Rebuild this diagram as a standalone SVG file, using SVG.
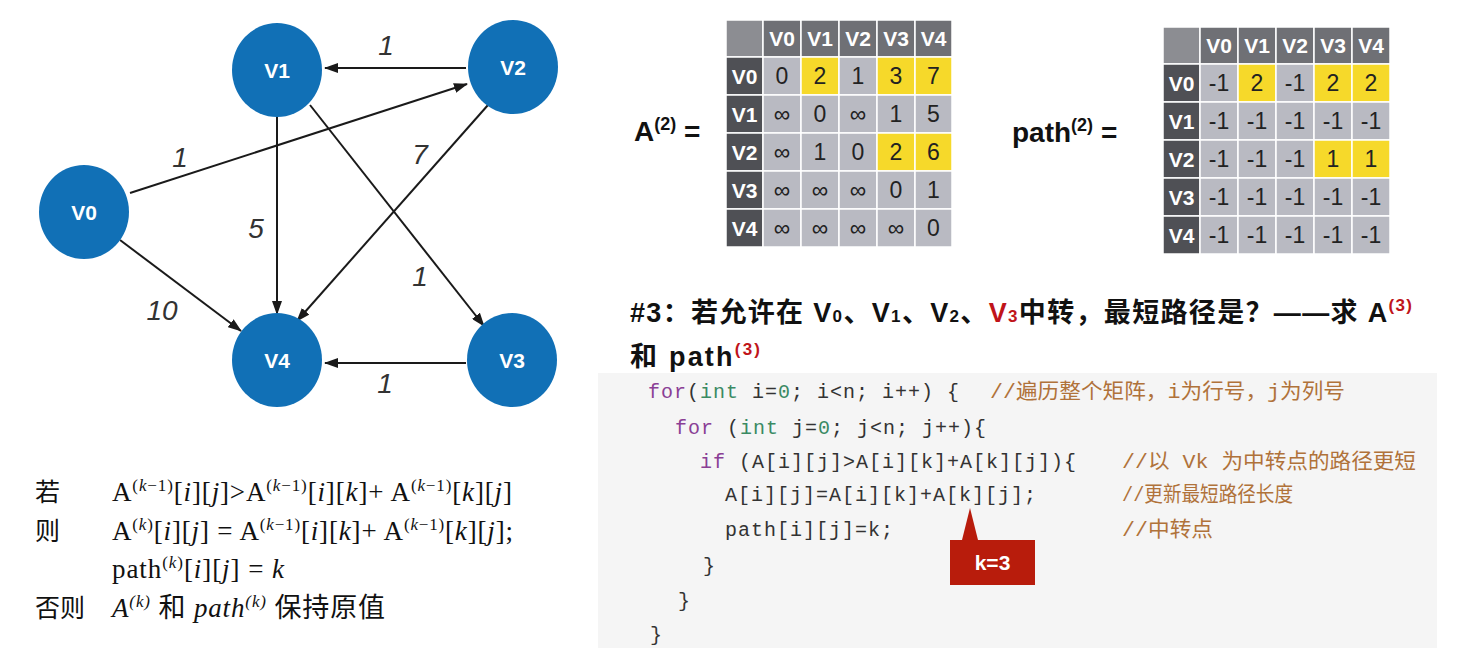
<svg xmlns="http://www.w3.org/2000/svg" width="1477" height="661" viewBox="0 0 1477 661">
<style>
.nd{fill:#1170b6}
.nl{font-family:"Liberation Sans",Arial,sans-serif;font-weight:bold;font-size:21px;fill:#fff;text-anchor:middle}
.el{font-family:"Liberation Sans",Arial,sans-serif;font-style:italic;font-size:28px;fill:#333;text-anchor:middle}
.ed{stroke:#1a1a1a;stroke-width:2;fill:none;marker-end:url(#ah)}
.c{stroke:#fff;stroke-width:1.5}
.ch{fill:#6f7075}.cc{fill:#8c8d92}.cr{fill:#4f5055}.cd{fill:#b9bac2}.cy{fill:#f6d92a}
.th{font-family:"Liberation Sans",Arial,sans-serif;font-weight:bold;font-size:21px;fill:#fff;text-anchor:middle}
.td{font-family:"Liberation Sans",Arial,sans-serif;font-size:23px;fill:#222;text-anchor:middle}
.lb{font-family:"Liberation Sans",Arial,sans-serif;font-weight:bold;font-size:28px;fill:#111}
.ttl{font-family:"Liberation Sans","Noto Sans CJK SC",sans-serif;font-weight:bold;font-size:27px;fill:#111}
.red{fill:#c0141a}
.code{font-family:"Liberation Mono","DejaVu Sans Mono",monospace;font-size:20px;letter-spacing:1px;fill:#333}
.kw{fill:#8a3f95}.ty{fill:#3a8a63}
.cm{font-family:"Liberation Mono","Noto Sans CJK SC",monospace;font-size:21px;fill:#b0723a}
.f{font-family:"Liberation Serif","Noto Sans CJK SC",serif;font-size:27px;fill:#111}
.sup{font-size:17px}
.i{font-style:italic}
.cj{font-family:"Noto Sans CJK SC",sans-serif;font-size:25px;fill:#111}
</style>
<defs>
<marker id="ah" markerUnits="userSpaceOnUse" markerWidth="14" markerHeight="10" refX="13" refY="5" orient="auto">
<path d="M0,0 L14,5 L0,10 Z" fill="#1a1a1a"/>
</marker>
</defs>
<rect width="1477" height="661" fill="#fff"/>

<g id="connectors">
<line class="ed" x1="466" y1="68" x2="325" y2="68"/>
<line class="ed" x1="130" y1="193" x2="467" y2="84"/>
<line class="ed" x1="277" y1="117" x2="277" y2="314"/>
<line class="ed" x1="310" y1="105" x2="484" y2="326"/>
<line class="ed" x1="488" y1="105" x2="297" y2="321"/>
<line class="ed" x1="120" y1="240" x2="241" y2="331"/>
<line class="ed" x1="466" y1="363" x2="325" y2="363"/>
<text class="el" x="386" y="55">1</text>
<text class="el" x="180" y="167">1</text>
<text class="el" x="256" y="238">5</text>
<text class="el" x="420" y="164">7</text>
<text class="el" x="420" y="286">1</text>
<text class="el" x="162" y="320">10</text>
<text class="el" x="385" y="393">1</text>
</g>

<g id="V1"><ellipse class="nd" cx="277" cy="70" rx="45" ry="47"/><text class="nl" x="277" y="78">V1</text></g>
<g id="V2"><ellipse class="nd" cx="513" cy="67" rx="45" ry="47"/><text class="nl" x="513" y="75">V2</text></g>
<g id="V0"><ellipse class="nd" cx="84" cy="212" rx="45" ry="47"/><text class="nl" x="84" y="220">V0</text></g>
<g id="V4"><ellipse class="nd" cx="277" cy="360" rx="45" ry="47"/><text class="nl" x="277" y="368">V4</text></g>
<g id="V3"><ellipse class="nd" cx="512" cy="360" rx="45" ry="47"/><text class="nl" x="512" y="368">V3</text></g>

<g id="matrixA">
<text class="lb" x="634" y="141">A<tspan font-size="18" dy="-11">(2)</tspan><tspan dy="11"> =</tspan></text>
<rect class="c cc" x="726" y="20" width="37" height="37"/>
<rect class="c ch" x="763" y="20" width="38" height="37"/><rect class="c ch" x="801" y="20" width="38" height="37"/><rect class="c ch" x="839" y="20" width="38" height="37"/><rect class="c ch" x="877" y="20" width="38" height="37"/><rect class="c ch" x="915" y="20" width="37" height="37"/>
<rect class="c cr" x="726" y="57" width="37" height="38"/><rect class="c cr" x="726" y="95" width="37" height="38"/><rect class="c cr" x="726" y="133" width="37" height="38"/><rect class="c cr" x="726" y="171" width="37" height="38"/><rect class="c cr" x="726" y="209" width="37" height="38"/>
<rect class="c cd" x="763" y="57" width="38" height="38"/><rect class="c cy" x="801" y="57" width="38" height="38"/><rect class="c cd" x="839" y="57" width="38" height="38"/><rect class="c cy" x="877" y="57" width="38" height="38"/><rect class="c cy" x="915" y="57" width="37" height="38"/>
<rect class="c cd" x="763" y="95" width="38" height="38"/><rect class="c cd" x="801" y="95" width="38" height="38"/><rect class="c cd" x="839" y="95" width="38" height="38"/><rect class="c cd" x="877" y="95" width="38" height="38"/><rect class="c cd" x="915" y="95" width="37" height="38"/>
<rect class="c cd" x="763" y="133" width="38" height="38"/><rect class="c cd" x="801" y="133" width="38" height="38"/><rect class="c cd" x="839" y="133" width="38" height="38"/><rect class="c cy" x="877" y="133" width="38" height="38"/><rect class="c cy" x="915" y="133" width="37" height="38"/>
<rect class="c cd" x="763" y="171" width="38" height="38"/><rect class="c cd" x="801" y="171" width="38" height="38"/><rect class="c cd" x="839" y="171" width="38" height="38"/><rect class="c cd" x="877" y="171" width="38" height="38"/><rect class="c cd" x="915" y="171" width="37" height="38"/>
<rect class="c cd" x="763" y="209" width="38" height="38"/><rect class="c cd" x="801" y="209" width="38" height="38"/><rect class="c cd" x="839" y="209" width="38" height="38"/><rect class="c cd" x="877" y="209" width="38" height="38"/><rect class="c cd" x="915" y="209" width="37" height="38"/>
<text class="th" x="782" y="46">V0</text><text class="th" x="820" y="46">V1</text><text class="th" x="858" y="46">V2</text><text class="th" x="896" y="46">V3</text><text class="th" x="933.5" y="46">V4</text>
<text class="th" x="744.5" y="84">V0</text><text class="th" x="744.5" y="122">V1</text><text class="th" x="744.5" y="160">V2</text><text class="th" x="744.5" y="198">V3</text><text class="th" x="744.5" y="236">V4</text>
<text class="td" x="782" y="84">0</text><text class="td" x="820" y="84">2</text><text class="td" x="858" y="84">1</text><text class="td" x="896" y="84">3</text><text class="td" x="933.5" y="84">7</text>
<text class="td" x="782" y="122">∞</text><text class="td" x="820" y="122">0</text><text class="td" x="858" y="122">∞</text><text class="td" x="896" y="122">1</text><text class="td" x="933.5" y="122">5</text>
<text class="td" x="782" y="160">∞</text><text class="td" x="820" y="160">1</text><text class="td" x="858" y="160">0</text><text class="td" x="896" y="160">2</text><text class="td" x="933.5" y="160">6</text>
<text class="td" x="782" y="198">∞</text><text class="td" x="820" y="198">∞</text><text class="td" x="858" y="198">∞</text><text class="td" x="896" y="198">0</text><text class="td" x="933.5" y="198">1</text>
<text class="td" x="782" y="236">∞</text><text class="td" x="820" y="236">∞</text><text class="td" x="858" y="236">∞</text><text class="td" x="896" y="236">∞</text><text class="td" x="933.5" y="236">0</text>
</g>

<g id="matrixPath">
<text class="lb" x="1012" y="142">path<tspan font-size="18" dy="-11">(2)</tspan><tspan dy="11"> =</tspan></text>
<rect class="c cc" x="1163" y="27" width="37" height="37"/>
<rect class="c ch" x="1200" y="27" width="38" height="37"/><rect class="c ch" x="1238" y="27" width="38" height="37"/><rect class="c ch" x="1276" y="27" width="38" height="37"/><rect class="c ch" x="1314" y="27" width="38" height="37"/><rect class="c ch" x="1352" y="27" width="38" height="37"/>
<rect class="c cr" x="1163" y="64" width="37" height="38"/><rect class="c cr" x="1163" y="102" width="37" height="38"/><rect class="c cr" x="1163" y="140" width="37" height="38"/><rect class="c cr" x="1163" y="178" width="37" height="38"/><rect class="c cr" x="1163" y="216" width="37" height="38"/>
<rect class="c cd" x="1200" y="64" width="38" height="38"/><rect class="c cy" x="1238" y="64" width="38" height="38"/><rect class="c cd" x="1276" y="64" width="38" height="38"/><rect class="c cy" x="1314" y="64" width="38" height="38"/><rect class="c cy" x="1352" y="64" width="38" height="38"/>
<rect class="c cd" x="1200" y="102" width="38" height="38"/><rect class="c cd" x="1238" y="102" width="38" height="38"/><rect class="c cd" x="1276" y="102" width="38" height="38"/><rect class="c cd" x="1314" y="102" width="38" height="38"/><rect class="c cd" x="1352" y="102" width="38" height="38"/>
<rect class="c cd" x="1200" y="140" width="38" height="38"/><rect class="c cd" x="1238" y="140" width="38" height="38"/><rect class="c cd" x="1276" y="140" width="38" height="38"/><rect class="c cy" x="1314" y="140" width="38" height="38"/><rect class="c cy" x="1352" y="140" width="38" height="38"/>
<rect class="c cd" x="1200" y="178" width="38" height="38"/><rect class="c cd" x="1238" y="178" width="38" height="38"/><rect class="c cd" x="1276" y="178" width="38" height="38"/><rect class="c cd" x="1314" y="178" width="38" height="38"/><rect class="c cd" x="1352" y="178" width="38" height="38"/>
<rect class="c cd" x="1200" y="216" width="38" height="38"/><rect class="c cd" x="1238" y="216" width="38" height="38"/><rect class="c cd" x="1276" y="216" width="38" height="38"/><rect class="c cd" x="1314" y="216" width="38" height="38"/><rect class="c cd" x="1352" y="216" width="38" height="38"/>
<text class="th" x="1219" y="53">V0</text><text class="th" x="1257" y="53">V1</text><text class="th" x="1295" y="53">V2</text><text class="th" x="1333" y="53">V3</text><text class="th" x="1371" y="53">V4</text>
<text class="th" x="1181.5" y="91">V0</text><text class="th" x="1181.5" y="129">V1</text><text class="th" x="1181.5" y="167">V2</text><text class="th" x="1181.5" y="205">V3</text><text class="th" x="1181.5" y="243">V4</text>
<text class="td" x="1219" y="91">-1</text><text class="td" x="1257" y="91">2</text><text class="td" x="1295" y="91">-1</text><text class="td" x="1333" y="91">2</text><text class="td" x="1371" y="91">2</text>
<text class="td" x="1219" y="129">-1</text><text class="td" x="1257" y="129">-1</text><text class="td" x="1295" y="129">-1</text><text class="td" x="1333" y="129">-1</text><text class="td" x="1371" y="129">-1</text>
<text class="td" x="1219" y="167">-1</text><text class="td" x="1257" y="167">-1</text><text class="td" x="1295" y="167">-1</text><text class="td" x="1333" y="167">1</text><text class="td" x="1371" y="167">1</text>
<text class="td" x="1219" y="205">-1</text><text class="td" x="1257" y="205">-1</text><text class="td" x="1295" y="205">-1</text><text class="td" x="1333" y="205">-1</text><text class="td" x="1371" y="205">-1</text>
<text class="td" x="1219" y="243">-1</text><text class="td" x="1257" y="243">-1</text><text class="td" x="1295" y="243">-1</text><text class="td" x="1333" y="243">-1</text><text class="td" x="1371" y="243">-1</text>
</g>

<g id="title">
<text class="ttl" x="630" y="322" textLength="782" lengthAdjust="spacing">#3：若允许在 V<tspan font-size="17">0</tspan>、V<tspan font-size="17">1</tspan>、V<tspan font-size="17">2</tspan>、<tspan class="red">V</tspan><tspan class="red" font-size="17">3</tspan>中转，最短路径是？——求 A<tspan font-size="17" dy="-11" class="red">(3)</tspan></text>
<text class="ttl" x="630" y="366" textLength="130" lengthAdjust="spacing">和 path<tspan font-size="17" dy="-11" class="red">(3)</tspan></text>
</g>

<g id="formula">
<text class="cj" x="35" y="501">若</text>
<text class="cj" x="35" y="540">则</text>
<text class="cj" x="35" y="617">否则</text>
<text class="f" x="112" y="501" textLength="400" lengthAdjust="spacing">A<tspan class="sup" dy="-10">(<tspan class="i">k</tspan>−1)</tspan><tspan dy="10">[<tspan class="i">i</tspan>][<tspan class="i">j</tspan>]&gt;A</tspan><tspan class="sup" dy="-10">(<tspan class="i">k</tspan>−1)</tspan><tspan dy="10">[<tspan class="i">i</tspan>][<tspan class="i">k</tspan>]+ A</tspan><tspan class="sup" dy="-10">(<tspan class="i">k</tspan>−1)</tspan><tspan dy="10">[<tspan class="i">k</tspan>][<tspan class="i">j</tspan>]</tspan></text>
<text class="f" x="112" y="540" textLength="401" lengthAdjust="spacing">A<tspan class="sup" dy="-10">(<tspan class="i">k</tspan>)</tspan><tspan dy="10">[<tspan class="i">i</tspan>][<tspan class="i">j</tspan>] = A</tspan><tspan class="sup" dy="-10">(<tspan class="i">k</tspan>−1)</tspan><tspan dy="10">[<tspan class="i">i</tspan>][<tspan class="i">k</tspan>]+ A</tspan><tspan class="sup" dy="-10">(<tspan class="i">k</tspan>−1)</tspan><tspan dy="10">[<tspan class="i">k</tspan>][<tspan class="i">j</tspan>];</tspan></text>
<text class="f" x="112" y="578" textLength="172" lengthAdjust="spacing">path<tspan class="sup" dy="-10">(<tspan class="i">k</tspan>)</tspan><tspan dy="10">[<tspan class="i">i</tspan>][<tspan class="i">j</tspan>] = <tspan class="i">k</tspan></tspan></text>
<text class="f" x="112" y="617" textLength="273" lengthAdjust="spacing"><tspan class="i">A</tspan><tspan class="sup i" dy="-10">(k)</tspan><tspan dy="10"> 和 </tspan><tspan class="i">path</tspan><tspan class="sup i" dy="-10">(k)</tspan><tspan dy="10"> 保持原值</tspan></text>
</g>

<g id="code">
<rect x="598" y="373" width="839" height="275" fill="#f5f5f5"/>
<text class="code" x="648" y="398"><tspan class="kw">for</tspan>(<tspan class="ty">int</tspan> i=<tspan class="ty">0</tspan>; i&lt;n; i++) {</text>
<text class="cm" x="990" y="398" textLength="355" lengthAdjust="spacingAndGlyphs">//遍历整个矩阵，i为行号，j为列号</text>
<text class="code" x="675" y="434"><tspan class="kw">for</tspan> (<tspan class="ty">int</tspan> j=<tspan class="ty">0</tspan>; j&lt;n; j++){</text>
<text class="code" x="700" y="468"><tspan class="kw">if</tspan> (A[i][j]&gt;A[i][k]+A[k][j]){</text>
<text class="cm" x="1122" y="468" textLength="294" lengthAdjust="spacingAndGlyphs">//以 Vk 为中转点的路径更短</text>
<text class="code" x="725" y="501">A[i][j]=A[i][k]+A[k][j];</text>
<text class="cm" x="1122" y="501" textLength="171" lengthAdjust="spacingAndGlyphs">//更新最短路径长度</text>
<text class="code" x="725" y="536">path[i][j]=k;</text>
<text class="cm" x="1122" y="536" textLength="91" lengthAdjust="spacingAndGlyphs">//中转点</text>
<text class="code" x="703" y="572">}</text>
<text class="code" x="678" y="607">}</text>
<text class="code" x="650" y="641">}</text>
</g>

<g id="callout">
<path d="M950,540 L962,540 L970,508 L978,540 L1035,540 L1035,585 L950,585 Z" fill="#b81c0c"/>
<text x="992.5" y="570" font-family="Liberation Sans,Arial,sans-serif" font-weight="bold" font-size="21" fill="#fff" text-anchor="middle">k=3</text>
</g>
</svg>
